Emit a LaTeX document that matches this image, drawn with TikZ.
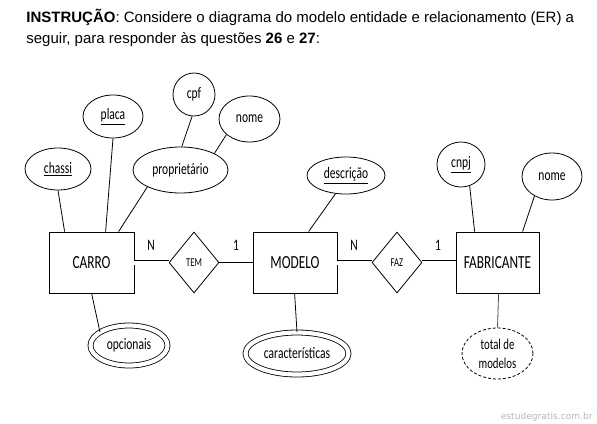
\documentclass[tikz,border=0pt]{standalone}
\usepackage{fontspec}
\setmainfont{Liberation Sans}
\newfontfamily\dg[FakeStretch=0.72]{Carlito}
\newfontfamily\wm{DejaVu Sans}
\usetikzlibrary{shapes.geometric,calc}
\tikzset{
  ent/.style={draw, rectangle, minimum width=85pt, minimum height=61pt, inner sep=0pt, font=\dg\fontsize{18.5}{20}\selectfont},
  rel/.style={draw, diamond, minimum width=50pt, minimum height=61pt, inner sep=0pt, font=\dg\fontsize{12}{14}\selectfont},
  attr/.style={draw, ellipse, inner sep=0pt, font=\dg\fontsize{16}{19}\selectfont},
  multi/.style={attr, double, double distance=4.2pt},
  derived/.style={attr, dashed, dash pattern=on 3pt off 2pt},
  card/.style={font=\dg\fontsize{16}{18}\selectfont},
  dbl/.style={double, double distance=4pt},
  head/.style={anchor=base west, inner sep=0pt, font=\fontsize{15}{17}\selectfont},
}
\begin{document}
\begin{tikzpicture}[x=1pt, y=-1pt, line width=0.8pt]
\path[use as bounding box, fill=white] (0,0) rectangle (597,423);

% header
\node[head] (h1) at (26,22) {\textbf{INSTRUÇÃO}: Considere o diagrama do modelo entidade e relacionamento (ER) a};
\node[head] (h2) at (26,43) {seguir, para responder às questões \textbf{26} e \textbf{27}:};

% entities and relationships
\node[ent] (carro) at (91.5,262.5) {CARRO};
\node[rel] (tem) at (194,262.5) {TEM};
\node[ent, minimum width=84pt] (modelo) at (295,262.5) {MODELO};
\node[rel] (faz) at (397,262.5) {FAZ};
\node[ent, minimum width=83pt] (fab) at (497.5,262.5) {FABRICANTE};

% attributes
\node[attr, minimum width=66pt, minimum height=42pt] (chassi) at (58,169) {\underline{chassi}};
\node[attr, minimum width=60pt, minimum height=43pt] (placa) at (113,116.5) {\underline{placa}};
\node[attr, minimum width=42pt, minimum height=43pt] (cpf) at (194,94.5) {cpf};
\node[attr, minimum width=61pt, minimum height=46pt] (nome1) at (249.5,119) {nome};
\node[attr, minimum width=95pt, minimum height=46pt] (prop) at (180.5,170) {proprietário};
\node[attr, minimum width=78pt, minimum height=37pt] (desc) at (346,175.5) {\underline{descrição}};
\node[attr, minimum width=48pt, minimum height=45pt] (cnpj) at (461,164.5) {\underline{cnpj}};
\node[attr, minimum width=60pt, minimum height=47pt] (nome2) at (552,176.5) {nome};
\node[multi, minimum width=77pt, minimum height=40pt] (opc) at (129,345.5) {opcionais};
\node[multi, minimum width=103pt, minimum height=42pt] (carac) at (297,353.5) {características};
\node[derived, minimum width=71pt, minimum height=51pt, align=center, font=\dg\fontsize{15}{19}\selectfont] (total) at (497.5,353.5) {total de\\modelos};

% relationship connectors
\draw[dbl] (carro.east) -- (tem.west);
\draw (tem.east) -- (modelo.west);
\draw[dbl] (modelo.east) -- (faz.west);
\draw[dbl] (faz.east) -- (fab.west);

% cardinalities
\node[card] (n1) at (151,245) {N};
\node[card] (c1) at (236,245) {1};
\node[card] (n2) at (354,245) {N};
\node[card] (c2) at (438,245) {1};

% attribute connectors
\draw (chassi.south) -- ($(carro.north west)+(16,0)$);
\draw (placa.south) -- ($(carro.north west)+(57,0)$);
\draw (prop.207) -- ($(carro.north west)+(70,0)$);
\draw (cpf.265) -- (prop.87);
\draw (nome1.214) -- (prop.26);
\draw (desc.240) -- ($(modelo.north west)+(56,0)$);
\draw (cnpj.292) -- ($(fab.north west)+(19,0)$);
\draw (nome2.228) -- ($(fab.north west)+(67,0)$);
\draw ($(carro.south west)+(43,0)$) -- (opc.155);
\draw ($(modelo.south west)+(42,0)$) -- (carac.north);
\draw[black!70] ($(fab.south west)+(43,0)$) -- (total.north);

% watermark
\node[anchor=base east, inner sep=0pt, text=black!28, font=\wm\fontsize{9.1}{11}\selectfont] (wmk) at (593,419) {estudegratis.com.br};
\end{tikzpicture}
\end{document}
